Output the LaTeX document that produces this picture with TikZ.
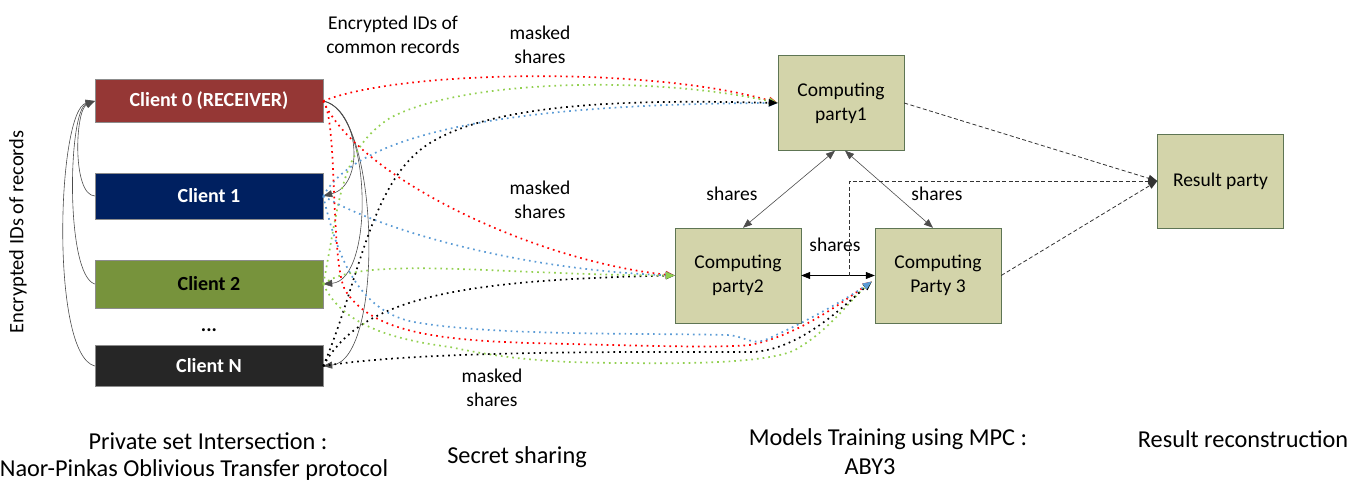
\documentclass[tikz,border=0pt]{standalone}
\usepackage{fontspec}
\setmainfont{Carlito}
\usetikzlibrary{arrows.meta,calc}

\definecolor{receiver}{RGB}{149,55,53}
\definecolor{navy}{RGB}{0,32,96}
\definecolor{olive}{RGB}{119,147,60}
\definecolor{charcoal}{RGB}{38,38,38}
\definecolor{partyfill}{RGB}{211,212,170}
\definecolor{partyline}{RGB}{94,117,84}
\definecolor{dotred}{RGB}{255,0,0}
\definecolor{dotgreen}{RGB}{146,208,80}
\definecolor{dotblue}{RGB}{91,155,213}

\newcommand{\lblfont}{\fontsize{19.5}{24}\selectfont}
\newcommand{\sidefont}{\fontsize{20.5}{24}\selectfont}
\newcommand{\clientfont}{\fontsize{20}{24}\selectfont\bfseries}
\newcommand{\stagefont}{\fontsize{24.3}{29}\selectfont}

\begin{document}
\begin{tikzpicture}[x=1pt, y=-1pt,
  client/.style={draw=black!45, minimum width=228pt, minimum height=43pt, inner sep=0pt, font=\clientfont},
  party/.style={draw=partyline, fill=partyfill, minimum width=126pt, minimum height=95pt, inner sep=0pt, align=center, font=\lblfont},
  lbl/.style={align=center, font=\lblfont, inner sep=0pt},
  stage/.style={font=\stagefont, inner sep=0pt},
  ptr/.style={-{Triangle[length=9pt,width=7pt]}},
  twoptr/.style={{Triangle[length=9pt,width=7pt]}-{Triangle[length=9pt,width=7pt]}},
  link/.style={draw=black!70, line width=0.6pt},
  maskdots/.style={line width=1.7pt, dash pattern=on 1.7pt off 4pt, -{Triangle[length=9pt,width=7pt]}},
  result/.style={draw=black!80, line width=0.8pt, dash pattern=on 4pt off 2.5pt, ptr}]
  \useasboundingbox (0,0) rectangle (1362,481);

  % clients
  \node[client, fill=receiver, text=white] (c0) at (209,101) {Client 0 (RECEIVER)};
  \node[client, fill=navy, text=white, minimum height=46pt] (c1) at (209,196) {Client 1};
  \node[client, fill=olive, text=black, minimum height=48pt] (c2) at (209,284) {Client 2};
  \node[client, fill=charcoal, text=white, minimum height=41pt] (cN) at (209,366) {Client N};
  \node[font=\clientfont] (more) at (209,330) {...};

  % computing parties
  \node[party] (cp1) at (841,103) {Computing\\party1};
  \node[party] (cp2) at (738,275.5) {Computing\\party2};
  \node[party] (cp3) at (938,275.5) {Computing\\Party 3};
  \node[party, minimum height=94pt] (rp) at (1220.5,181) {Result party};

  \coordinate (p3in) at ([xshift=-3pt,yshift=-6pt]cp3.west);
  \coordinate (mid) at ($(cp2.east)!0.66!(cp3.west)$);

  % encrypted IDs
  \draw[link, ptr] (c1.west) .. controls (72,195) and (75,110) .. (c0.west);
  \draw[link, ptr] (c2.west) .. controls (65,275) and (68,110) .. (c0.west);
  \draw[link, ptr] (cN.west) .. controls (50,355) and (57,110) .. (c0.west);
  \draw[link, ptr] (c0.east) .. controls (360,110) and (365,185) .. (c1.east);
  \draw[link, ptr] (c0.east) .. controls (372,110) and (375,280) .. (c2.east);
  \draw[link, ptr] (c0.east) .. controls (380,110) and (385,360) .. (cN.east);

  % masked shares to party 1
  \draw[maskdots, dotred] (c0.east) .. controls (400,70) and (650,66) .. (cp1.west);
  \draw[maskdots, dotgreen] (c2.east) .. controls (340,200) and (340,150) .. (390,118)
    .. controls (460,80) and (650,75) .. (cp1.west);
  \draw[maskdots, dotblue] (c1.east) .. controls (360,130) and (520,104) .. (cp1.west);
  \draw[maskdots, black] (cN.east) .. controls (360,280) and (370,180) .. (430,143)
    .. controls (500,100) and (650,100) .. (cp1.west);

  % masked shares to party 2
  \draw[maskdots, dotred] (c0.east) .. controls (360,180) and (540,262) .. (cp2.west);
  \draw[maskdots, dotblue] (c1.east) .. controls (380,230) and (520,270) .. (cp2.west);
  \draw[maskdots, black] (cN.east) .. controls (360,300) and (450,280) .. (cp2.west);
  \draw[maskdots, dotgreen] (c2.east) .. controls (360,255) and (500,275) .. (cp2.west);

  % masked shares to party 3
  \draw[maskdots, dotred] (c0.east) .. controls (338,120) and (330,260) .. (345,290)
    .. controls (370,330) and (430,340) .. (530,343) .. controls (650,346) and (720,348) .. (750,345)
    .. controls (800,335) and (845,300) .. (p3in);
  \draw[maskdots, dotgreen] (c2.east) .. controls (340,320) and (380,338) .. (450,347)
    .. controls (510,360) and (560,363) .. (630,363) .. controls (700,364) and (770,362) .. (795,350)
    .. controls (830,330) and (850,300) .. (p3in);
  \draw[maskdots, black] (cN.east) .. controls (420,350) and (650,352) .. (752,352)
    .. controls (800,350) and (845,305) .. (p3in);
  \draw[maskdots, dotblue] (c1.east) .. controls (338,260) and (360,315) .. (420,323)
    .. controls (500,336) and (650,333) .. (727,335) .. controls (745,336) and (750,345) .. (765,340)
    .. controls (800,325) and (845,300) .. (p3in);

  % shares between computing parties
  \draw[link, twoptr] ([xshift=-6pt]cp1.south) -- ([xshift=5pt]cp2.north);
  \draw[link, twoptr] ([xshift=4pt]cp1.south) -- ([xshift=-5pt]cp3.north);
  \draw[black, line width=0.8pt, twoptr] (cp2.east) -- (cp3.west);

  % results
  \draw[result] (cp1.east) -- (rp.west);
  \draw[result] (mid) |- (rp.west);
  \draw[result] (cp3.east) -- (rp.west);

  % labels
  \node[lbl, font=\sidefont, rotate=90] (idsrec) at (18,232) {Encrypted IDs of records};
  \node[lbl] (common) at (393,35) {Encrypted IDs of\\common records};
  \node[lbl] (ms1) at (540,45) {masked\\shares};
  \node[lbl] (ms2) at (540,200) {masked\\shares};
  \node[lbl] (ms3) at (492,388) {masked\\shares};
  \node[lbl] (sh12) at (732,194) {shares};
  \node[lbl] (sh13) at (937,194) {shares};
  \node[lbl] (sh23) at (835,245) {shares};

  % stages
  \node[stage] (psi) at (208,441) {Private set Intersection :};
  \node[stage] (np) at (194,470) {Naor-Pinkas Oblivious Transfer protocol};
  \node[stage] (ss) at (517,457) {Secret sharing};
  \node[stage] (mt) at (888,439) {Models Training using MPC :};
  \node[stage] (aby) at (870,467) {ABY3};
  \node[stage] (rr) at (1243,439) {Result reconstruction};
\end{tikzpicture}
\end{document}
